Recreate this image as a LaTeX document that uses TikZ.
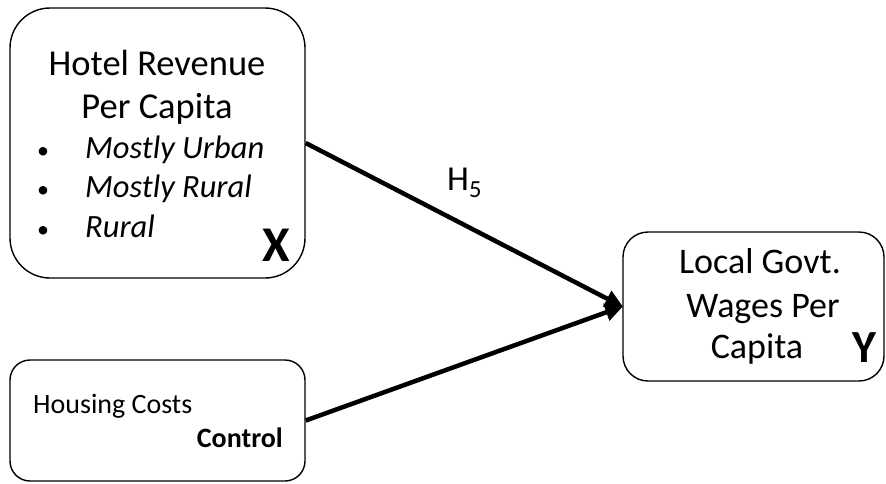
\documentclass[tikz,border=0pt]{standalone}
\usepackage{fontspec}
\setmainfont{Carlito}
\usetikzlibrary{arrows.meta}
\begin{document}
\begin{tikzpicture}[x=1pt,y=-1pt,
  box/.style={draw, line width=1.4pt, inner sep=0pt},
  txt/.style={inner sep=0pt, anchor=base},
  link/.style={line width=4.5pt, -{Triangle[length=18pt,width=17pt]}, shorten >=-1pt}
]
\useasboundingbox (0,0) rectangle (886,483);
% boxes
\node[box, rounded corners=40pt, minimum width=295pt, minimum height=270pt] (bx) at (157.5,143) {};
\node[box, rounded corners=20pt, minimum width=295pt, minimum height=121pt] (bc) at (157.5,420.5) {};
\node[box, rounded corners=25pt, minimum width=261pt, minimum height=149pt] (by) at (753.5,306.5) {};
% independent variable
\node[txt, font=\fontsize{36.5}{40}\selectfont] (t1) at (157,75) {Hotel Revenue};
\node[txt, font=\fontsize{36.5}{40}\selectfont] (t2) at (157,118) {Per Capita};
\foreach \i/\yy/\lab in {1/158/Mostly Urban, 2/197/Mostly Rural, 3/237/Rural}{
  \node[txt, font=\fontsize{24}{30}\selectfont] (b\i) at (43,\yy) {•};
  \node[txt, anchor=base west, font=\fontsize{32.5}{38}\selectfont\itshape] (i\i) at (85,\yy) {\lab};
}
\node[txt, font=\fontsize{50}{56}\selectfont\bfseries] (xl) at (276,261) {X};
% control
\node[txt, anchor=base west, font=\fontsize{28}{32}\selectfont] (hc) at (33,413) {Housing Costs};
\node[txt, anchor=base east, font=\fontsize{28}{32}\selectfont\bfseries] (ct) at (283,447) {Control};
% dependent variable
\node[txt, font=\fontsize{36}{40}\selectfont] (y1) at (760,273) {Local Govt.};
\node[txt, font=\fontsize{36}{40}\selectfont] (y2) at (763,317) {Wages Per};
\node[txt, font=\fontsize{36}{40}\selectfont] (y3) at (757,358) {Capita};
\node[txt, font=\fontsize{46}{50}\selectfont\bfseries] (yl) at (864,362) {Y};
% paths
\draw[link] (bx.east) -- (by.west);
\draw[link] (bc.east) -- (by.west);
\node[txt, anchor=base west, font=\fontsize{35}{40}\selectfont] (h5) at (447,190) {H\textsubscript{5}};
\end{tikzpicture}
\end{document}
